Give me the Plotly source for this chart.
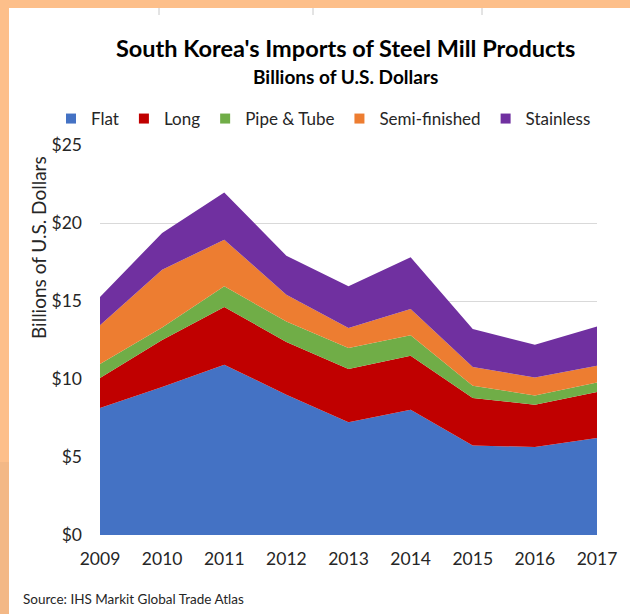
import plotly.graph_objects as go

years = [2009, 2010, 2011, 2012, 2013, 2014, 2015, 2016, 2017]
flat = [8.14, 9.49, 10.92, 8.99, 7.22, 8.03, 5.74, 5.64, 6.22]
long_ = [1.92, 3.01, 3.70, 3.38, 3.42, 3.46, 3.04, 2.71, 2.95]
pipe_tube = [0.90, 0.80, 1.32, 1.32, 1.35, 1.31, 0.79, 0.60, 0.61]
semi_finished = [2.48, 3.70, 2.99, 1.71, 1.28, 1.69, 1.20, 1.15, 1.07]
stainless = [1.82, 2.36, 3.03, 2.50, 2.67, 3.31, 2.43, 2.10, 2.52]

series_names = ["Flat", "Long", "Pipe & Tube", "Semi-finished", "Stainless"]
series_values = [flat, long_, pipe_tube, semi_finished, stainless]
colors = ["#4472C4", "#C00000", "#70AD47", "#ED7D31", "#7030A0"]

y_ticks = [0, 5, 10, 15, 20, 25]
y_tick_labels = ["$0", "$5", "$10", "$15", "$20", "$25"]

FONT = "Lato, Carlito, 'Open Sans', sans-serif"

fig = go.Figure()
for name, vals, col in zip(series_names, series_values, colors):
    fig.add_trace(go.Scatter(
        x=years, y=vals, name=name, mode="lines", stackgroup="one",
        line=dict(width=0, color=col), fillcolor=col, showlegend=False,
    ))
# legend entries (square swatches)
for name, col in zip(series_names, colors):
    fig.add_trace(go.Scatter(
        x=[None], y=[None], name=name, mode="markers",
        marker=dict(symbol="square", size=10, color=col), showlegend=True,
    ))

W, H = 630, 614
L, R, T, B = 100, 33, 145, 79
pw = W - L - R
ph = H - T - B

def px(xp):
    return (xp - L) / pw

def py(yp):
    return (H - B - yp) / ph

shapes = [
    dict(type="rect", xref="paper", yref="paper", x0=px(0), x1=px(9), y0=py(0), y1=py(462),
         fillcolor="#FDBF8A", line=dict(width=0), layer="above"),
    dict(type="rect", xref="paper", yref="paper", x0=px(0), x1=px(9), y0=py(462), y1=py(614),
         fillcolor="#F3B886", line=dict(width=0), layer="above"),
    dict(type="rect", xref="paper", yref="paper", x0=px(0), x1=px(630), y0=py(0), y1=py(8),
         fillcolor="#FDBF8A", line=dict(width=0), layer="above"),
]
for xt in [159, 313, 482]:
    shapes.append(dict(type="line", xref="paper", yref="paper", x0=px(xt), x1=px(xt),
                       y0=py(8), y1=py(15), line=dict(color="#C8C8C8", width=1)))

annotations = [
    dict(text="<b>South Korea's Imports of Steel Mill Products</b>", xref="paper", yref="paper",
         x=px(345), y=py(48), xanchor="center", yanchor="middle", showarrow=False,
         font=dict(family=FONT, size=23.5, color="#000000")),
    dict(text="<b>Billions of U.S. Dollars</b>", xref="paper", yref="paper",
         x=px(345), y=py(77), xanchor="center", yanchor="middle", showarrow=False,
         font=dict(family=FONT, size=19, color="#000000")),
    dict(text="Billions of U.S. Dollars", xref="paper", yref="paper", textangle=-90,
         x=px(38), y=py(248), xanchor="center", yanchor="middle", showarrow=False,
         font=dict(family=FONT, size=19, color="#262626")),
    dict(text="Source: IHS Markit Global Trade Atlas", xref="paper", yref="paper",
         x=px(21), y=py(599), xanchor="left", yanchor="middle", showarrow=False,
         font=dict(family=FONT, size=13.5, color="#262626")),
]

fig.update_layout(
    width=W, height=H,
    margin=dict(l=L, r=R, t=T, b=B, pad=0, autoexpand=False),
    paper_bgcolor="white", plot_bgcolor="white",
    font=dict(family=FONT, size=16, color="#404040"),
    showlegend=True,
    legend=dict(orientation="h", xref="paper", yref="paper",
                x=px(51), xanchor="left", y=py(119), yanchor="middle",
                traceorder="normal",
                font=dict(family=FONT, size=17, color="#262626"),
                itemwidth=30, tracegroupgap=0, bgcolor="rgba(0,0,0,0)"),
    xaxis=dict(range=[2009, 2017], tickmode="array", tickvals=years,
               ticktext=[str(y) for y in years], showgrid=False, zeroline=False,
               showline=False, ticks="", ticklabelstandoff=11,
               tickfont=dict(family=FONT, size=17.5, color="#262626")),
    yaxis=dict(range=[0, 25], tickmode="array", tickvals=y_ticks, ticktext=y_tick_labels,
               showgrid=True, gridcolor="#D9D9D9", gridwidth=1, zeroline=False,
               showline=False, ticks="", ticklabelstandoff=17,
               tickfont=dict(family=FONT, size=17.5, color="#262626")),
    shapes=shapes, annotations=annotations,
    hovermode=False,
)

fig.write_html("out.html", config={"displayModeBar": False},
               post_script="document.body.style.margin='0';")
